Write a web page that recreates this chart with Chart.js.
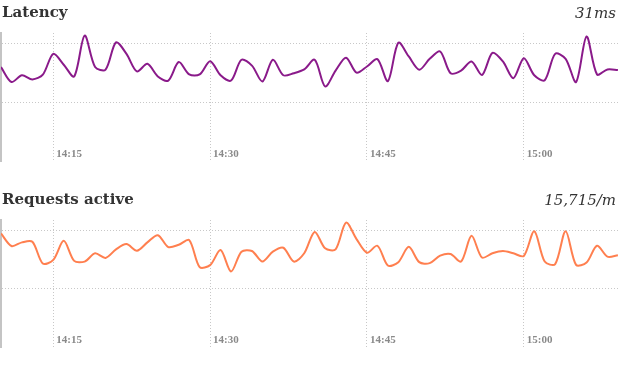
<!DOCTYPE html>
<html>
<head>
<meta charset="utf-8">
<script src="https://cdn.jsdelivr.net/npm/chart.js@4"></script>
<style>
  html, body { margin: 0; padding: 0; background: #fff; }
  body { width: 620px; height: 368px; position: relative; overflow: hidden; }
  .panel { position: absolute; left: 0; width: 620px; height: 184px; }
  .panel canvas { position: absolute; left: 0; top: 0; }
  .title { position: absolute; left: 2px; font-family: "DejaVu Serif", "Liberation Serif", serif; font-weight: bold; font-size: 15px; color: #333; line-height: 18px; }
  .value { position: absolute; right: 4px; font-family: "DejaVu Serif", "Liberation Serif", serif; font-style: italic; font-size: 15px; color: #333; line-height: 18px; }
</style>
</head>
<body>
<div class="panel" id="p1" style="top:0px;">
  <canvas id="c1" width="620" height="184"></canvas>
  <div class="title" style="top:3px;">Latency</div>
  <div class="value" style="top:4px;">31ms</div>
</div>
<div class="panel" id="p2" style="top:184px;">
  <canvas id="c2" width="620" height="184"></canvas>
  <div class="title" style="top:6px;">Requests active</div>
  <div class="value" style="top:7px;">15,715/m</div>
</div>
<script>
const times = [
  '14:10','14:11','14:12','14:13','14:14','14:15','14:16','14:17','14:18','14:19',
  '14:20','14:21','14:22','14:23','14:24','14:25','14:26','14:27','14:28','14:29',
  '14:30','14:31','14:32','14:33','14:34','14:35','14:36','14:37','14:38','14:39',
  '14:40','14:41','14:42','14:43','14:44','14:45','14:46','14:47','14:48','14:49',
  '14:50','14:51','14:52','14:53','14:54','14:55','14:56','14:57','14:58','14:59',
  '15:00','15:01','15:02','15:03','15:04','15:05','15:06','15:07','15:08','15:09'
];
const latencyMs = [
  32.0, 26.9, 29.2, 27.8, 29.4, 36.5, 32.8, 28.8, 42.7, 32.0,
  31.1, 40.4, 36.5, 30.5, 33.1, 28.8, 27.4, 33.7, 29.5, 29.5,
  34.0, 29.2, 27.4, 34.5, 32.5, 27.1, 34.5, 29.2, 29.9, 31.2,
  34.5, 25.4, 30.8, 35.2, 30.1, 32.2, 34.7, 27.2, 40.3, 35.6,
  31.1, 34.8, 37.3, 29.9, 30.8, 33.9, 29.3, 36.8, 33.9, 28.2,
  35.0, 29.2, 27.5, 36.5, 34.8, 26.9, 42.4, 29.5, 31.2, 31.0
];
const requestsPerMin = [
  19440, 17290, 17920, 18020, 14290, 14920, 18190, 14750, 14630, 16050,
  15260, 16730, 17630, 16490, 17920, 19150, 17120, 17510, 18310, 13680,
  14020, 16610, 12930, 16320, 16440, 14630, 16320, 17000, 14630, 16050,
  19710, 16900, 16730, 21310, 18480, 16150, 17340, 13950, 14530, 17150,
  14530, 14360, 15650, 15930, 14630, 19040, 15310, 16050, 16440, 16050,
  15590, 19830, 14630, 14190, 19830, 14070, 14460, 17340, 15480, 15715
];
const timeTicks = ['14:15', '14:30', '14:45', '15:00'];
const latencyGrid = [20, 40];
const requestsGrid = [10000, 20000];

function toMin(t) { const p = t.split(':').map(Number); return p[0] * 60 + p[1]; }
function fmt(m) { const h = Math.floor(m / 60), mm = Math.round(m % 60); return h + ':' + (mm < 10 ? '0' : '') + mm; }

const xMin = toMin(times[0]);
const xMax = toMin(times[times.length - 1]) + 0.2;

function makeChart(id, values, gridVals, yMax, color, pad) {
  const data = times.map((t, i) => ({ x: toMin(t), y: values[i] }));
  return new Chart(document.getElementById(id), {
    type: 'line',
    data: { datasets: [{ data: data, borderColor: color, borderWidth: 2, pointRadius: 0, fill: false, tension: 0.3 }] },
    options: {
      responsive: false,
      animation: false,
      events: [],
      layout: { padding: pad },
      plugins: { legend: { display: false }, tooltip: { enabled: false }, title: { display: false } },
      scales: {
        x: {
          type: 'linear', min: xMin, max: xMax,
          afterBuildTicks: (s) => { s.ticks = timeTicks.map(t => ({ value: toMin(t) })); },
          grid: { color: '#c8c8c8', lineWidth: 1, drawTicks: false },
          border: { display: false, dash: [1, 2] },
          ticks: {
            align: 'start', labelOffset: 3, padding: -13,
            color: '#8a8a8a', font: { family: '"Liberation Serif", serif', size: 11, weight: 'bold' },
            callback: (v) => fmt(v)
          }
        },
        y: {
          min: 0, max: yMax,
          afterBuildTicks: (s) => { s.ticks = gridVals.map(v => ({ value: v })); },
          grid: { color: '#c8c8c8', lineWidth: 1, drawTicks: false },
          border: { display: true, color: '#c4c4c4', width: 2, dash: [1, 2] },
          ticks: { display: false }
        }
      }
    }
  });
}

makeChart('c1', latencyMs, latencyGrid, 43.6, '#8a1a8a', { top: 33, left: 1, right: 0, bottom: 23 });
makeChart('c2', requestsPerMin, requestsGrid, 21750, '#ff7f4f', { top: 36, left: 1, right: 0, bottom: 21 });
</script>
</body>
</html>
